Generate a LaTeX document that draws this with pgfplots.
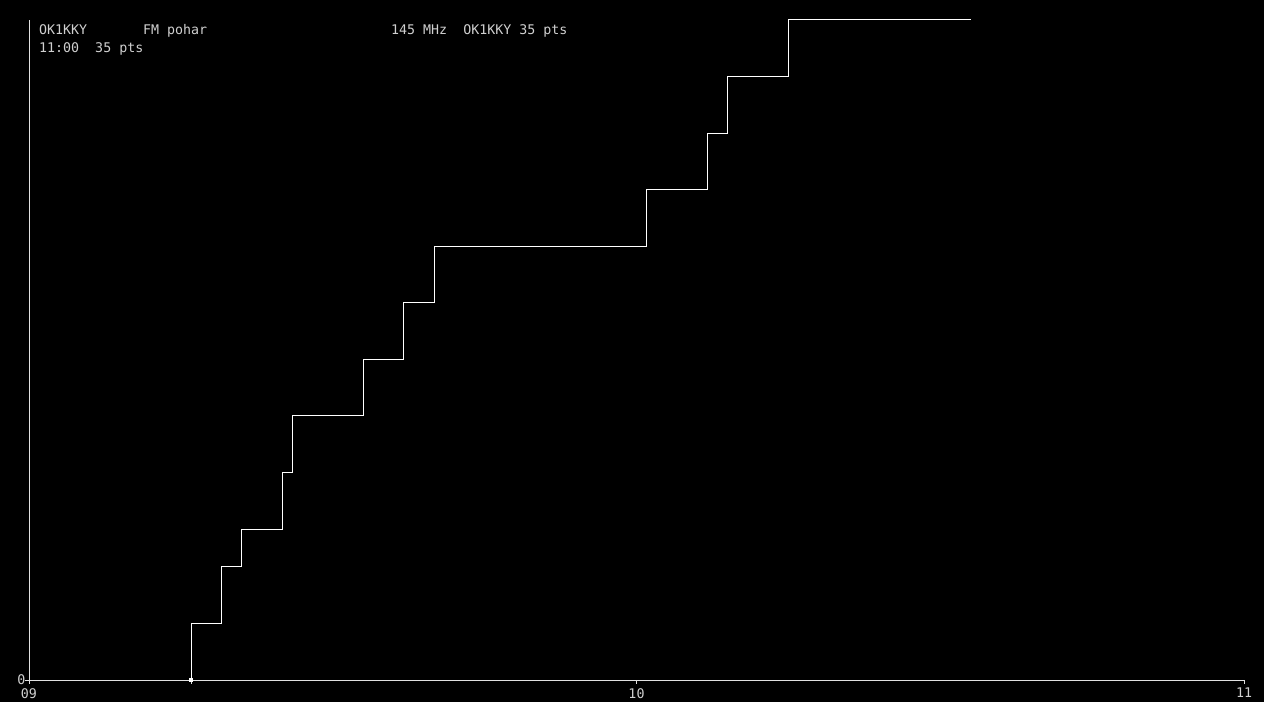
\documentclass[border=0pt]{standalone}
\usepackage{pgfplots}
\pgfplotsset{compat=1.18}
\usepackage{fontspec}
\setmonofont{DejaVu Sans Mono}
\newcommand\mono{\ttfamily\fontsize{13.3}{17}\selectfont}
\definecolor{txt}{RGB}{208,208,208}
\definecolor{axl}{RGB}{225,225,225}

% cumulative points, x in minutes after 09:00
\pgfplotstableread{
t   pts
16  0
16  3
19  6
21  8
25  11
26  14
33  17
37  20
40  23
61  26
67  29
69  32
75  35
93  35
}\qsos

\begin{document}
\begin{tikzpicture}
\path[use as bounding box, fill=black] (0,0) rectangle (1264pt,702pt);

\begin{axis}[
    at={(29pt,22pt)}, anchor=south west,
    scale only axis,
    width=1215pt, height=660pt,
    xmin=0, xmax=120,
    ymin=0, ymax=35,
    axis x line*=bottom,
    axis y line*=left,
    axis line style={-, draw=axl, line width=1pt},
    tick align=outside,
    major tick length=3.5pt,
    tick style={draw=axl, line width=1pt},
    xtick={0,16,60,120},
    xticklabels={09,,10,11},
    ytick={0},
    yticklabels={0},
    ticklabel style={font=\mono, text=txt, inner sep=0pt},
    xticklabel style={anchor=north, yshift=-4.5pt},
    yticklabel style={anchor=east},
    clip=false,
]
\addplot[const plot, draw=white, line width=1pt,
    mark=square*, mark indices={1}, mark size=1.5pt,
    mark options={fill=white, draw=white}]
    table[x=t, y=pts] {\qsos};
\end{axis}

\node[anchor=base west, inner sep=0pt, text=txt, font=\mono] at (39pt,667pt) {OK1KKY};
\node[anchor=base west, inner sep=0pt, text=txt, font=\mono] at (143pt,667pt) {FM~pohar};
\node[anchor=base west, inner sep=0pt, text=txt, font=\mono] at (391pt,667pt) {145~MHz~~OK1KKY~35~pts};
\node[anchor=base west, inner sep=0pt, text=txt, font=\mono] at (39pt,649.5pt) {11:00~~35~pts};
\end{tikzpicture}
\end{document}
